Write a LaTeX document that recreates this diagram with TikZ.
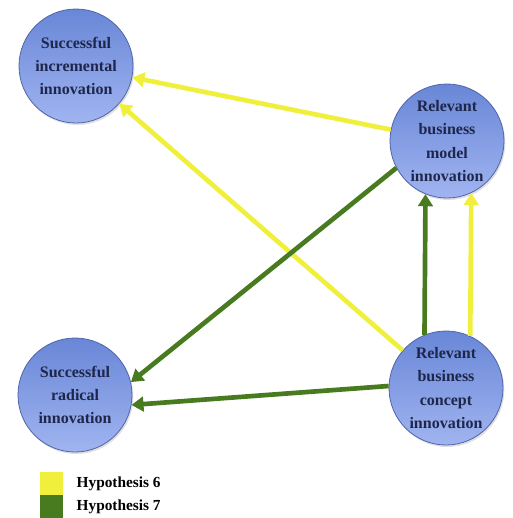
\documentclass[tikz,border=0pt]{standalone}
\usepackage{fontspec}
\setmainfont{Liberation Serif}
\usetikzlibrary{arrows.meta,positioning,shapes,shadows}

\definecolor{hypyellow}{RGB}{240,240,60}
\definecolor{hypgreen}{RGB}{72,122,32}
\definecolor{ringblue}{RGB}{80,100,170}
\definecolor{topblue}{RGB}{105,135,215}
\definecolor{botblue}{RGB}{160,180,240}
\definecolor{inkblue}{RGB}{30,38,75}

\begin{document}
\begin{tikzpicture}[x=0.75pt,y=-0.75pt,
  idea/.style={circle,draw=ringblue,line width=0.6pt,top color=topblue,bottom color=botblue,
    minimum size=85.5pt,inner sep=0pt,align=center,font=\fontsize{12}{17.5}\selectfont\bfseries,
    text=inkblue,drop shadow={opacity=0.25,shadow xshift=1pt,shadow yshift=-1.5pt}},
  hyp6/.style={draw=hypyellow,line width=3.5pt,-{Triangle[length=9pt,width=11pt]}},
  hyp7/.style={draw=hypgreen,line width=3.5pt,-{Triangle[length=9pt,width=11pt]}},
  keybox/.style={minimum width=17pt,minimum height=17pt,inner sep=0pt}]
\useasboundingbox (0,0) rectangle (513,518);
\node[idea] (sii) at (76,66) {Successful\\incremental\\innovation};
\node[idea] (rbmi) at (447,141) {Relevant\\business\\model\\innovation};
\node[idea] (sri) at (75,395) {Successful\\radical\\innovation};
\node[idea] (rbci) at (446,388) {Relevant\\business\\concept\\innovation};
\draw[hyp6] (rbmi)--(sii);
\draw[hyp6] (rbci)--(sii);
\draw[hyp7] (rbmi.208)--(sri.13);
\draw[hyp7] (rbci.178)--(sri.350);
\draw[hyp7] (rbci.112)--(rbmi.248);
\draw[hyp6] (rbci.65)--(rbmi.295);
\node[keybox,fill=hypyellow] (k6) at (51.5,483.5) {};
\node[keybox,fill=hypgreen] (k7) at (51.5,506.5) {};
\node[right=10pt of k6,inner sep=0pt,font=\fontsize{11.5}{14}\selectfont\bfseries] (l6) {Hypothesis 6};
\node[right=10pt of k7,inner sep=0pt,font=\fontsize{11.5}{14}\selectfont\bfseries] (l7) {Hypothesis 7};
\end{tikzpicture}
\end{document}
